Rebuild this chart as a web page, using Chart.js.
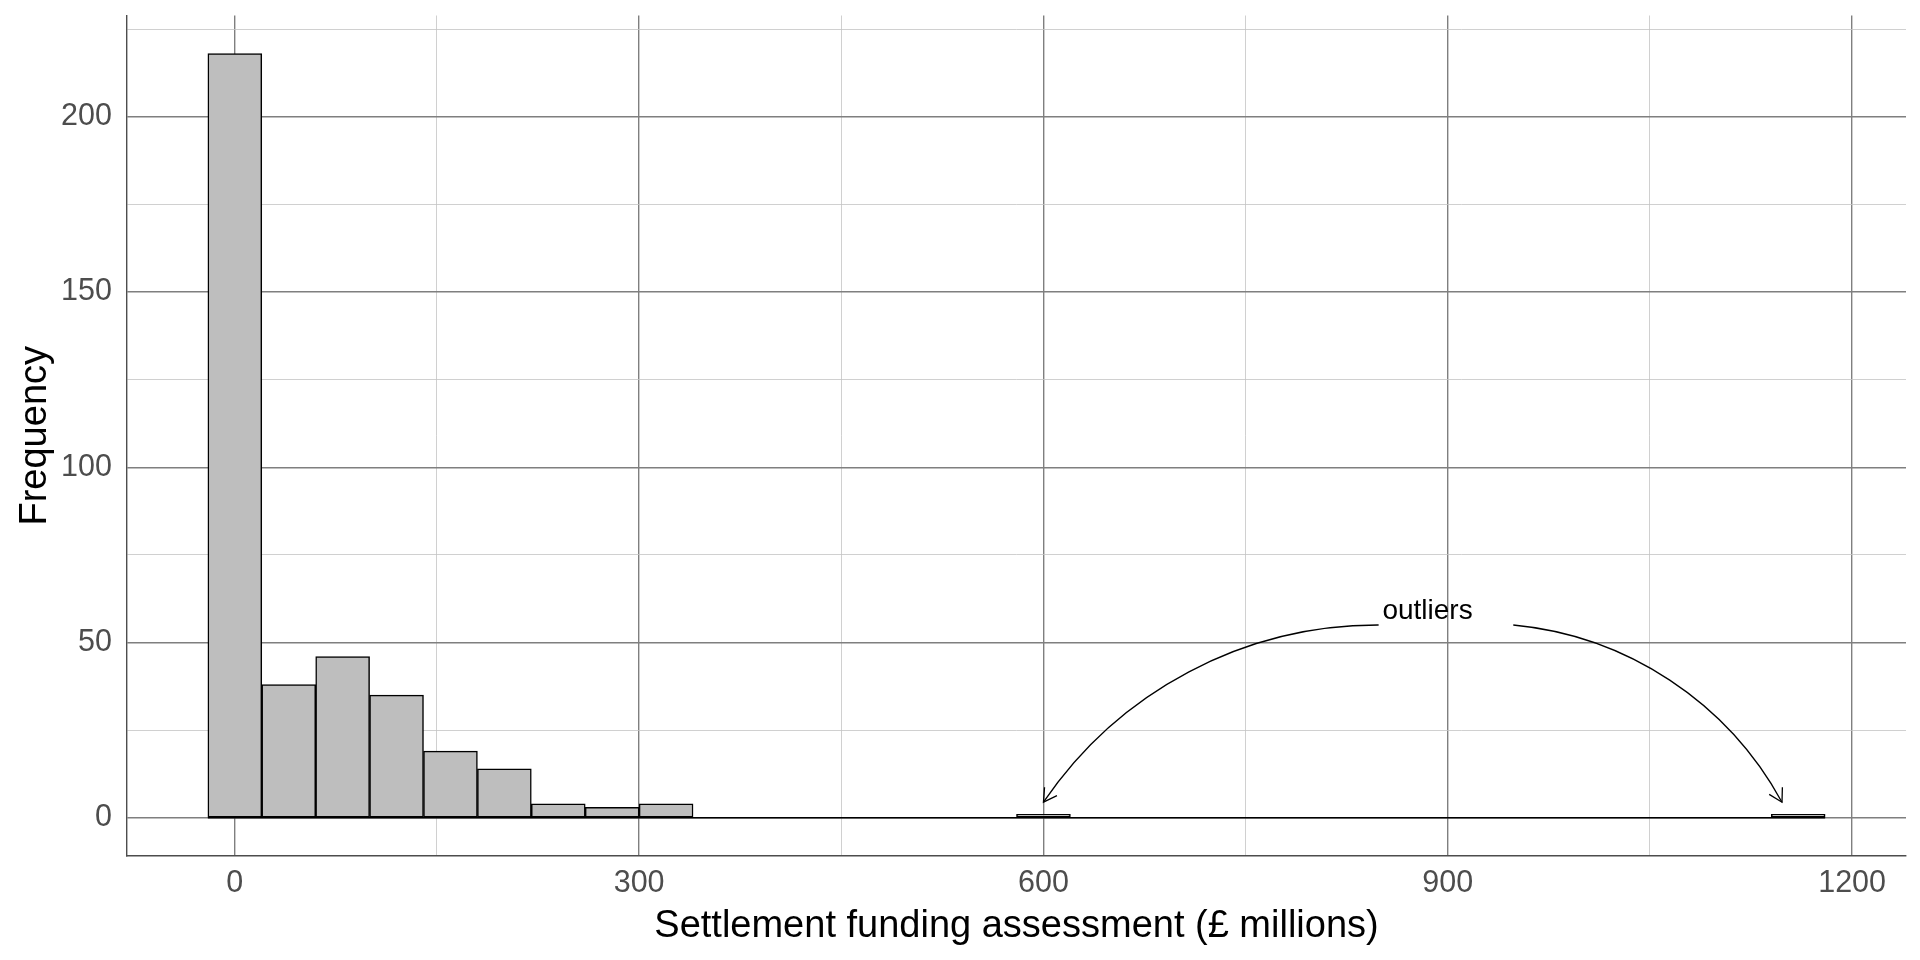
<!DOCTYPE html>
<html>
<head>
<meta charset="utf-8">
<script src="https://cdn.jsdelivr.net/npm/chart.js@4"></script>
<style>
  html, body { margin: 0; padding: 0; background: #fff; }
  #wrap { width: 1920px; height: 960px; }
</style>
</head>
<body>
<div id="wrap"><canvas id="myChart" width="1920" height="960"></canvas></div>
<script>
// histogram bins (centre of each 40m bin) and counts
var binWidth = 40;
var binMids = [0, 40, 80, 120, 160, 200, 240, 280, 320, 360, 400, 440, 480, 520, 560,
               600, 640, 680, 720, 760, 800, 840, 880, 920, 960, 1000, 1040, 1080, 1120, 1160];
var counts = [218, 38, 46, 35, 19, 14, 4, 3, 4, 0, 0, 0, 0, 0, 0,
              1, 0, 0, 0, 0, 0, 0, 0, 0, 0, 0, 0, 0, 0, 1];

// axis ticks
var xTicks = [0, 150, 300, 450, 600, 750, 900, 1050, 1200];
var xLabels = [0, 300, 600, 900, 1200];
var yTicks = [0, 25, 50, 75, 100, 125, 150, 175, 200, 225];
var yLabels = [0, 50, 100, 150, 200];

// annotation (data units)
var noteText = 'outliers';
var notePos = [885, 56.6];
var arrowFrom = [[848.7, 55], [948.6, 55]];
var arrowTo = [[600, 4.45], [1148, 4.45]];

var FONT = "'Liberation Sans', Arial, sans-serif";

var points = binMids.map(function (m, i) { return { x: m, y: counts[i] }; });
var baseline = [
    { x: binMids[0] - binWidth / 2, y: 0 },
    { x: binMids[binMids.length - 1] + binWidth / 2, y: 0 }
];

var notePlugin = {
    id: 'notes',
    afterDatasetsDraw: function (chart) {
        var ctx = chart.ctx, xs = chart.scales.x, ys = chart.scales.y;
        var a = 28 * Math.PI / 180;
        ctx.save();
        ctx.strokeStyle = '#000';
        ctx.lineWidth = 1.3;
        for (var i = 0; i < arrowFrom.length; i++) {
            var S = [xs.getPixelForValue(arrowFrom[i][0]), ys.getPixelForValue(arrowFrom[i][1])];
            var E = [xs.getPixelForValue(arrowTo[i][0]), ys.getPixelForValue(arrowTo[i][1])];
            var dx = E[0] - S[0], dy = E[1] - S[1];
            var L = Math.sqrt(dx * dx + dy * dy);
            var u = [dx / L, dy / L];
            var n = [-u[1], u[0]];
            if (n[1] > 0) n = [u[1], -u[0]];
            var ts = [Math.cos(a) * u[0] + Math.sin(a) * n[0], Math.cos(a) * u[1] + Math.sin(a) * n[1]];
            var te = [Math.cos(a) * u[0] - Math.sin(a) * n[0], Math.cos(a) * u[1] - Math.sin(a) * n[1]];
            var R = L / (2 * Math.sin(a));
            var h = 4 / 3 * Math.tan(a / 2) * R;
            ctx.beginPath();
            ctx.moveTo(S[0], S[1]);
            ctx.bezierCurveTo(S[0] + h * ts[0], S[1] + h * ts[1], E[0] - h * te[0], E[1] - h * te[1], E[0], E[1]);
            ctx.stroke();
            // open arrow head
            var back = Math.atan2(-te[1], -te[0]);
            var len = 15, wing = 30 * Math.PI / 180;
            ctx.beginPath();
            ctx.moveTo(E[0] + len * Math.cos(back + wing), E[1] + len * Math.sin(back + wing));
            ctx.lineTo(E[0], E[1]);
            ctx.lineTo(E[0] + len * Math.cos(back - wing), E[1] + len * Math.sin(back - wing));
            ctx.stroke();
        }
        ctx.fillStyle = '#000';
        ctx.font = '28px ' + FONT;
        ctx.textAlign = 'center';
        ctx.textBaseline = 'alphabetic';
        ctx.fillText(noteText, xs.getPixelForValue(notePos[0]), ys.getPixelForValue(notePos[1]));
        ctx.restore();
    }
};

function isMajor(list, c) { return !!c.tick && list.indexOf(c.tick.value) >= 0; }

var ctx = document.getElementById('myChart').getContext('2d');
var chart = new Chart(ctx, {
    type: 'bar',
    data: {
        datasets: [{
            data: points,
            backgroundColor: '#bebebe',
            borderColor: '#000',
            borderWidth: 1.5,
            borderSkipped: false,
            barPercentage: 1,
            categoryPercentage: 1
        }, {
            type: 'line',
            data: baseline,
            borderColor: '#000',
            borderWidth: 1.5,
            pointRadius: 0
        }]
    },
    options: {
        responsive: false,
        animation: false,
        layout: { padding: { left: 0, right: 14, top: 15.5, bottom: 0 } },
        plugins: { legend: { display: false }, tooltip: { enabled: false } },
        scales: {
            x: {
                type: 'linear',
                offset: false,
                min: -80,
                max: 1240,
                afterBuildTicks: function (s) { s.ticks = xTicks.map(function (v) { return { value: v }; }); },
                afterFit: function (s) { s.height = 104; s.paddingLeft = 0; s.paddingRight = 0; },
                ticks: {
                    autoSkip: false,
                    maxRotation: 0,
                    padding: 9,
                    color: '#4d4d4d',
                    font: { family: FONT, size: 30.5 },
                    callback: function (v) { return xLabels.indexOf(v) >= 0 ? String(v) : ''; }
                },
                grid: {
                    offset: false,
                    drawTicks: false,
                    color: function (c) { return isMajor(xLabels, c) ? '#7f7f7f' : '#c4c4c4'; },
                    lineWidth: function (c) { return isMajor(xLabels, c) ? 1.4 : 0.8; }
                },
                border: { display: true, color: '#4d4d4d', width: 1.4 },
                title: {
                    display: true,
                    text: 'Settlement funding assessment (£ millions)',
                    color: '#000',
                    font: { family: FONT, size: 38 },
                    padding: { top: 0, bottom: 11 }
                }
            },
            y: {
                min: -10.9,
                max: 228.9,
                afterBuildTicks: function (s) { s.ticks = yTicks.map(function (v) { return { value: v }; }); },
                afterFit: function (s) { s.width = 127; s.paddingTop = 0; s.paddingBottom = 0; },
                ticks: {
                    padding: 15,
                    color: '#4d4d4d',
                    font: { family: FONT, size: 30.5 },
                    callback: function (v) { return yLabels.indexOf(v) >= 0 ? String(v) : ''; }
                },
                grid: {
                    drawTicks: false,
                    color: function (c) { return isMajor(yLabels, c) ? '#7f7f7f' : '#c4c4c4'; },
                    lineWidth: function (c) { return isMajor(yLabels, c) ? 1.4 : 0.8; }
                },
                border: { display: true, color: '#4d4d4d', width: 1.4 },
                title: {
                    display: true,
                    text: 'Frequency',
                    color: '#000',
                    font: { family: FONT, size: 38 },
                    padding: { top: 13, bottom: 0 }
                }
            }
        }
    },
    plugins: [notePlugin]
});
</script>
</body>
</html>
